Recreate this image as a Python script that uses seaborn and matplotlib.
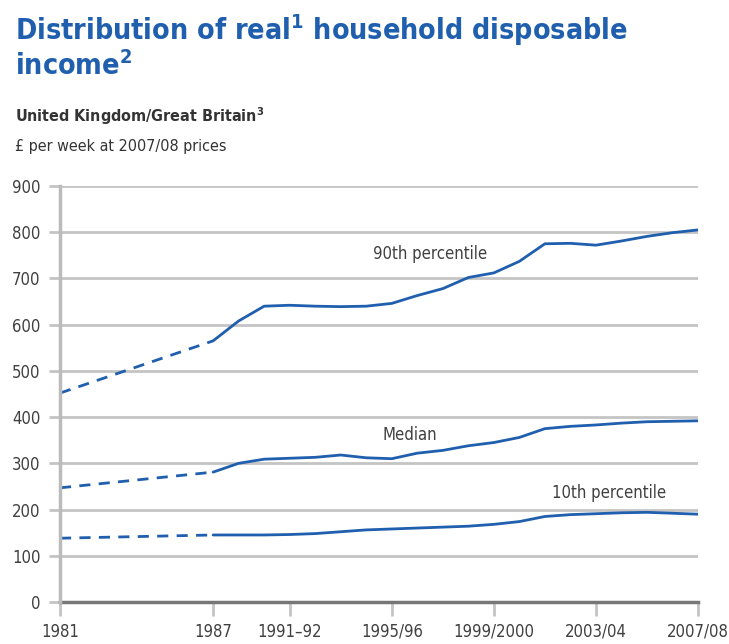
import matplotlib
matplotlib.use("Agg")
import matplotlib.pyplot as plt
import seaborn as sns
import pandas as pd
import numpy as np

# ---- data ----
tick_pos = [0, 6, 9, 13, 17, 21, 25]
tick_labels = ["1981", "1987", "1991\u201392", "1995/96", "1999/2000", "2003/04", "2007/08"]

# time index (1981 = 0) for each observation
period_idx = [0, 6, 7, 8, 9, 10, 11, 12, 13, 14, 15, 16, 17, 18, 19, 20, 21, 22, 23, 24, 25]

p90 = [452, 565, 608, 640, 642, 640, 639, 640, 646, 663, 678, 702, 712, 737, 775, 776, 772, 781, 791, 799, 805]
median = [247, 281, 300, 309, 311, 313, 318, 312, 310, 322, 328, 338, 345, 356, 375, 380, 383, 387, 390, 391, 392]
p10 = [138, 145, 145, 145, 146, 148, 152, 156, 158, 160, 162, 164, 168, 174, 185, 189, 191, 193, 194, 192, 190]

series_names = ["90th percentile", "Median", "10th percentile"]
label_pos = [(14.5, 752), (13.7, 362), (21.5, 236)]

# ---- style ----
sns.set_theme(style="white")
plt.rcParams["font.family"] = ["DejaVu Sans"]
plt.rcParams["font.stretch"] = "condensed"

BLUE = "#1f5fae"
GRID = "#c4c4c4"
TXT = "#404040"

fig = plt.figure(figsize=(7.29, 6.44), dpi=100)
ax = fig.add_axes([60 / 729, 1 - 602 / 644, (698 - 60) / 729, (602 - 186) / 644])

frames = []
for name, vals in zip(series_names, [p90, median, p10]):
    frames.append(pd.DataFrame({"t": period_idx, "v": vals, "series": name}))
df = pd.concat(frames, ignore_index=True)

dashed = df[df["t"] <= 6]
solid = df[df["t"] >= 6]

for name in series_names:
    sns.lineplot(data=dashed[dashed["series"] == name], x="t", y="v", ax=ax,
                 color=BLUE, lw=2, linestyle=(0, (4, 3)), legend=False, zorder=3)
    sns.lineplot(data=solid[solid["series"] == name], x="t", y="v", ax=ax,
                 color=BLUE, lw=2, legend=False, zorder=3)

for name, (lx, ly) in zip(series_names, label_pos):
    ax.text(lx, ly, name, ha="center", va="center", fontsize=12, color=TXT, fontstretch="condensed")

ax.set_xlim(0, 25)
ax.set_ylim(0, 900)
ax.set_yticks(range(0, 901, 100))
ax.set_xticks(tick_pos)
ax.set_xticklabels(tick_labels)
ax.set_xlabel("")
ax.set_ylabel("")
ax.yaxis.grid(True, color=GRID, lw=2)
ax.xaxis.grid(False)
ax.set_axisbelow(True)

for s in ["top", "right"]:
    ax.spines[s].set_visible(False)
ax.spines["left"].set_color("#bbbbbb")
ax.spines["left"].set_linewidth(2.5)
ax.spines["bottom"].set_color("#777777")
ax.spines["bottom"].set_linewidth(2.5)
ax.spines["left"].set_zorder(4)

ax.tick_params(axis="y", length=8, width=2, color=GRID, labelsize=12, labelcolor=TXT, pad=6, left=True)
ax.tick_params(axis="x", length=10, width=2, color=GRID, labelsize=12, labelcolor=TXT, pad=5, bottom=True)
for lab in ax.get_xticklabels() + ax.get_yticklabels():
    lab.set_fontstretch("condensed")

# ---- titles ----
fig.text(15 / 729, 1 - 30 / 644, "Distribution of real$^{\\mathregular{1}}$ household disposable",
         fontsize=20.5, fontweight="bold", color=BLUE, va="center", ha="left", fontstretch="condensed")
fig.text(15 / 729, 1 - 66 / 644, "income$^{\\mathregular{2}}$",
         fontsize=20.5, fontweight="bold", color=BLUE, va="center", ha="left", fontstretch="condensed")
fig.text(15 / 729, 1 - 116 / 644, "United Kingdom/Great Britain$^{\\mathregular{3}}$",
         fontsize=11.5, fontweight="bold", color="#333333", va="center", ha="left", fontstretch="condensed")
fig.text(15 / 729, 1 - 146 / 644, "\u00a3 per week at 2007/08 prices",
         fontsize=11.5, color="#333333", va="center", ha="left", fontstretch="condensed")

fig.savefig("out.png", dpi=100)
